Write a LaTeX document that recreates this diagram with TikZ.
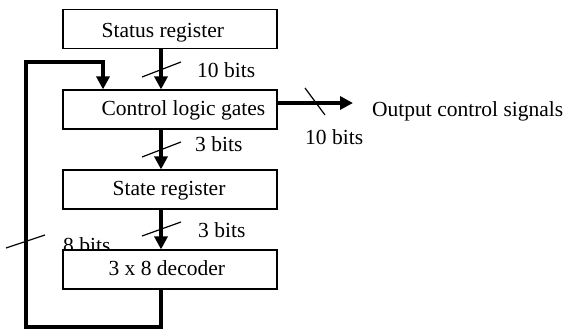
\documentclass[tikz,border=0pt]{standalone}
\usepackage{fontspec}
\setmainfont{Liberation Serif}
\usetikzlibrary{arrows.meta}
\begin{document}
\begin{tikzpicture}[x=1pt,y=-1pt,font=\fontsize{21.5}{25}\selectfont]
\tikzstyle{boite} = [draw,line width=1.2pt,fill=white,minimum width=214pt,minimum height=39pt,inner sep=0pt] %blocs
\tikzstyle{bus} = [line width=3.8pt,line join=miter] %liaisons epaisses
\tikzstyle{fleche} = [-{Triangle[length=13pt,width=13pt]}]
\tikzstyle{barre} = [line width=1.2pt] %marque du nombre de bits
\tikzstyle{texte} = [anchor=base west,inner sep=0pt]
\useasboundingbox (0,0) rectangle (566,331);
%etiquette sous le decodeur (cachee en partie)
\draw(63,253)node[texte](n8){8 bits};
%blocs
\draw(170,29)node[boite](stat){};
\draw(170,109.5)node[boite](ctrl){};
\draw(170,189.5)node[boite](etat){};
\draw(170,269.5)node[boite](dec){};
\draw(stat.west)++(39,9)node[texte](tstat){Status register};
\draw(ctrl.west)++(39,6.5)node[texte](tctrl){Control logic gates};
\draw(etat.west)++(50,6.5)node[texte](tetat){State register};
\draw(dec.west)++(46,6.5)node[texte](tdec){3 x 8 decoder};
\coordinate (axe) at (161,0);
%liaisons verticales
\draw[bus,fleche] (stat.south -| axe)--(ctrl.north -| axe);
\draw[bus,fleche] (ctrl.south -| axe)--(etat.north -| axe);
\draw[bus,fleche] (etat.south -| axe)--(dec.north -| axe);
\draw[barre] (142,77)--(181,62);
\draw[barre] (142,157)--(181,142);
\draw[barre] (142,236)--(181,222);
\draw(197,78)node[texte](n10){10 bits};
\draw(195,152)node[texte](n3a){3 bits};
\draw(198,238)node[texte](n3b){3 bits};
%boucle de retour
\coordinate (bas) at (26,327);
\coordinate (haut) at (103,62);
\draw[bus,fleche] (dec.south -| axe) |- (bas) |- (haut)--(ctrl.north -| haut);
\draw[barre] (6,248)--(45,235);
%sorties
\coordinate (sortie) at (353,103);
\draw[bus,fleche] (ctrl.east |- sortie)--(sortie);
\draw[barre] (305,88)--(325,115);
\draw(305,145)node[texte](n10s){10 bits};
\draw(372,117)node[texte](out){Output control signals};
\end{tikzpicture}
\end{document}
